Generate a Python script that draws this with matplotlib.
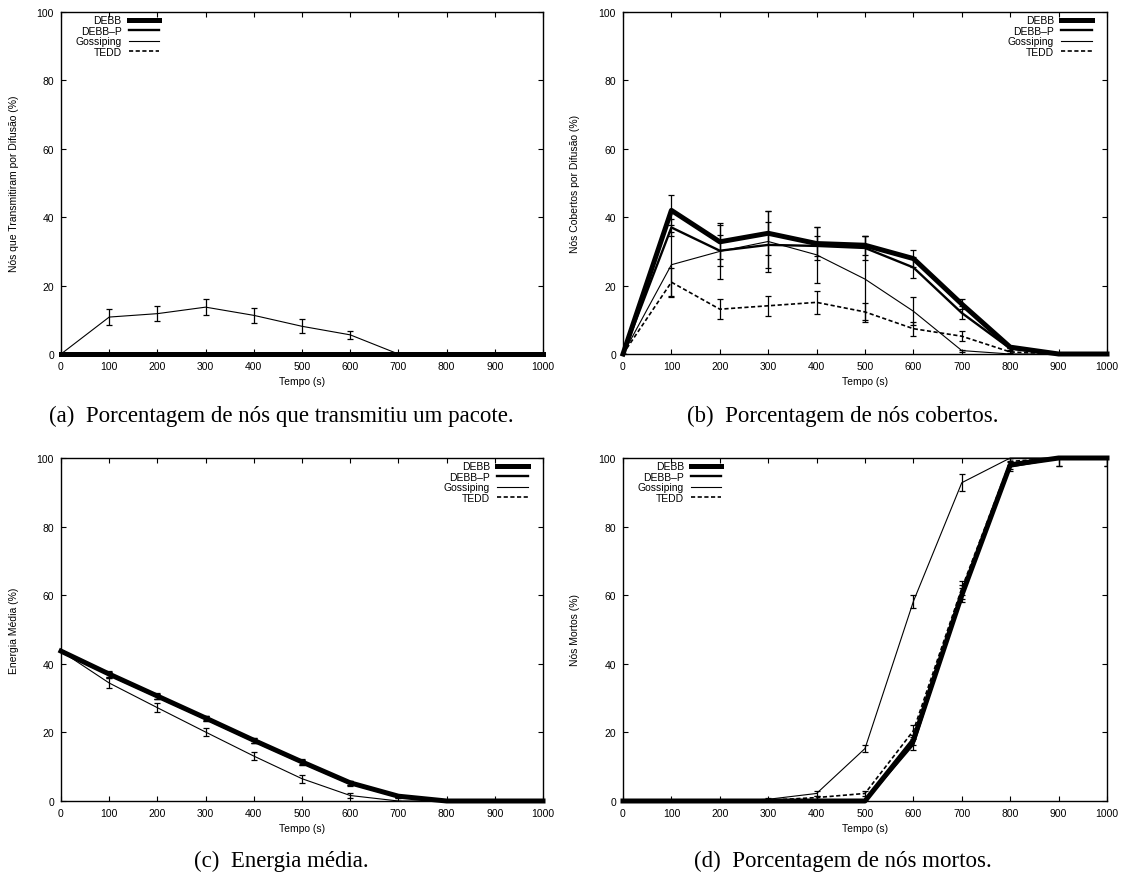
import matplotlib
matplotlib.use("Agg")
import matplotlib.pyplot as plt

plt.rcParams['font.family'] = ['Liberation Sans', 'DejaVu Sans']

tempo = [0, 100, 200, 300, 400, 500, 600, 700, 800, 900, 1000]
series_names = ["DEBB", "DEBB\u2013P", "Gossiping", "TEDD"]

# (a) Nós que transmitiram por difusão (%)
trans_debb = [0, 0, 0, 0, 0, 0, 0, 0, 0, 0, 0]
trans_debbp = [0, 0, 0, 0, 0, 0, 0, 0, 0, 0, 0]
trans_goss = [0, 10.8, 11.8, 13.7, 11.3, 8.1, 5.6, 0, 0, 0, 0]
trans_goss_err = [0, 2.4, 2.2, 2.4, 2.1, 2.0, 1.2, 0, 0, 0, 0]
trans_tedd = [0, 0, 0, 0, 0, 0, 0, 0, 0, 0, 0]

# (b) Nós cobertos por difusão (%)
cob_debb = [0, 42.0, 32.8, 35.3, 32.3, 31.8, 27.9, 14.6, 2.0, 0, 0]
cob_debb_err = [0, 4.4, 5.0, 6.4, 4.9, 2.8, 2.5, 1.4, 0.3, 0, 0]
cob_debbp = [0, 37.0, 30.2, 31.9, 31.6, 31.0, 25.3, 12.0, 1.6, 0, 0]
cob_debbp_err = [0, 2.5, 4.5, 6.8, 2.8, 3.5, 3.1, 1.9, 0.3, 0, 0]
cob_goss = [0, 26.1, 30.0, 32.9, 29.0, 21.9, 12.5, 1.0, 0, 0, 0]
cob_goss_err = [0, 9.5, 8.2, 8.8, 8.2, 12.6, 4.1, 0.3, 0, 0, 0]
cob_tedd = [0, 21.0, 13.1, 14.1, 15.1, 12.3, 7.4, 5.2, 0.6, 0, 0]
cob_tedd_err = [0, 4.1, 2.9, 2.9, 3.4, 2.5, 2.0, 1.4, 0.2, 0, 0]

# (c) Energia média (%)
en_debb = [43.7, 37.0, 30.6, 24.2, 17.7, 11.4, 5.3, 1.4, 0, 0, 0]
en_debb_err = [0, 0.8, 0.8, 0.7, 0.7, 0.7, 0.6, 0.3, 0, 0, 0]
en_debbp = [43.7, 36.8, 30.4, 24.0, 17.5, 11.2, 5.1, 1.3, 0, 0, 0]
en_goss = [43.7, 34.4, 27.2, 20.1, 13.1, 6.5, 1.6, 0, 0, 0, 0]
en_goss_err = [0, 1.5, 1.3, 1.2, 1.2, 1.2, 0.8, 0, 0, 0, 0]
en_tedd = [43.7, 36.9, 30.5, 24.1, 17.6, 11.3, 5.2, 1.3, 0, 0, 0]

# (d) Nós mortos (%)
mor_debb = [0, 0, 0, 0, 0, 0, 17.7, 60.0, 98.0, 100, 100]
mor_debb_err = [0, 0, 0, 0, 0, 0, 1.5, 2.0, 1.2, 2.4, 2.4]
mor_debbp = [0, 0, 0, 0, 0, 0, 16.5, 61.0, 97.5, 100, 100]
mor_goss = [0, 0, 0, 0.5, 2.2, 15.3, 58.2, 92.8, 100, 100, 100]
mor_goss_err = [0, 0, 0, 0.3, 0.6, 1.1, 2.0, 2.5, 0, 0, 0]
mor_tedd = [0, 0, 0, 0.2, 1.0, 2.2, 20.5, 62.0, 99.0, 100, 100]
mor_tedd_err = [0, 0, 0, 0.2, 0.5, 0.6, 1.8, 2.0, 1.0, 0, 0]

ylabels = ["N\u00f3s que Transmitiram por Difus\u00e3o (%)",
           "N\u00f3s Cobertos por Difus\u00e3o (%)",
           "Energia M\u00e9dia (%)",
           "N\u00f3s Mortos (%)"]
captions = ["(a)  Porcentagem de n\u00f3s que transmitiu um pacote.",
            "(b)  Porcentagem de n\u00f3s cobertos.",
            "(c)  Energia m\u00e9dia.",
            "(d)  Porcentagem de n\u00f3s mortos."]

styles = [dict(lw=3.6, ls='-'), dict(lw=1.7, ls='-'),
          dict(lw=0.8, ls='-'), dict(lw=1.2, ls=(0, (2.5, 1.5)))]

W, H = 1123, 879
fig = plt.figure(figsize=(W / 100, H / 100), dpi=100)

boxes = [(61, 543, 13, 355), (623, 1107, 13, 355),
         (61, 543, 459, 802), (623, 1107, 459, 802)]

panels = [
    [(trans_debb, None), (trans_debbp, None), (trans_goss, trans_goss_err), (trans_tedd, None)],
    [(cob_debb, cob_debb_err), (cob_debbp, cob_debbp_err), (cob_goss, cob_goss_err), (cob_tedd, cob_tedd_err)],
    [(en_debb, en_debb_err), (en_debbp, en_debb_err), (en_goss, en_goss_err), (en_tedd, en_debb_err)],
    [(mor_debb, mor_debb_err), (mor_debbp, mor_debb_err), (mor_goss, mor_goss_err), (mor_tedd, mor_tedd_err)],
]
legend_left = [True, False, False, True]

FS = 7.5
for i, (l, r, t, b) in enumerate(boxes):
    ax = fig.add_axes([l / W, 1 - b / H, (r - l) / W, (b - t) / H])
    for j, (vals, err) in enumerate(panels[i]):
        st = styles[j]
        ax.plot(tempo, vals, color='black', lw=st['lw'], ls=st['ls'],
                label=series_names[j], clip_on=False, zorder=2 + j)
        if err is not None:
            ax.errorbar(tempo, vals, yerr=err, fmt='none', ecolor='black',
                        elinewidth=0.9, capsize=2.2, capthick=0.9, zorder=2 + j)
    ax.set_xlim(0, 1000)
    ax.set_ylim(0, 100)
    ax.set_xticks(tempo)
    ax.set_yticks([0, 20, 40, 60, 80, 100])
    ax.tick_params(direction='in', length=3.5, width=0.8, labelsize=FS,
                   top=True, right=True, pad=5)
    for sp in ax.spines.values():
        sp.set_linewidth(1.0)
    ax.set_xlabel("Tempo (s)", fontsize=FS)
    ax.xaxis.set_label_coords(0.5, -0.065)
    ax.set_ylabel(ylabels[i], fontsize=FS)
    ax.yaxis.set_label_coords(-0.088, 0.5)
    if legend_left[i]:
        kw = dict(loc='upper left', bbox_to_anchor=(0.03, 0.99))
    else:
        kw = dict(loc='upper right', bbox_to_anchor=(0.968, 0.99))
    ax.legend(frameon=False, markerfirst=False, fontsize=FS, labelspacing=0.05,
              handlelength=2.9, handletextpad=0.7, borderaxespad=0, borderpad=0,
              **kw)

cap_pos = [(281, 422), (843, 422), (281, 867), (843, 867)]
for (cx, cy), txt in zip(cap_pos, captions):
    fig.text(cx / W, 1 - cy / H, txt, ha='center', va='baseline',
             family=['Liberation Serif', 'DejaVu Serif'], fontsize=16.5)

fig.savefig("out.png", dpi=100)
